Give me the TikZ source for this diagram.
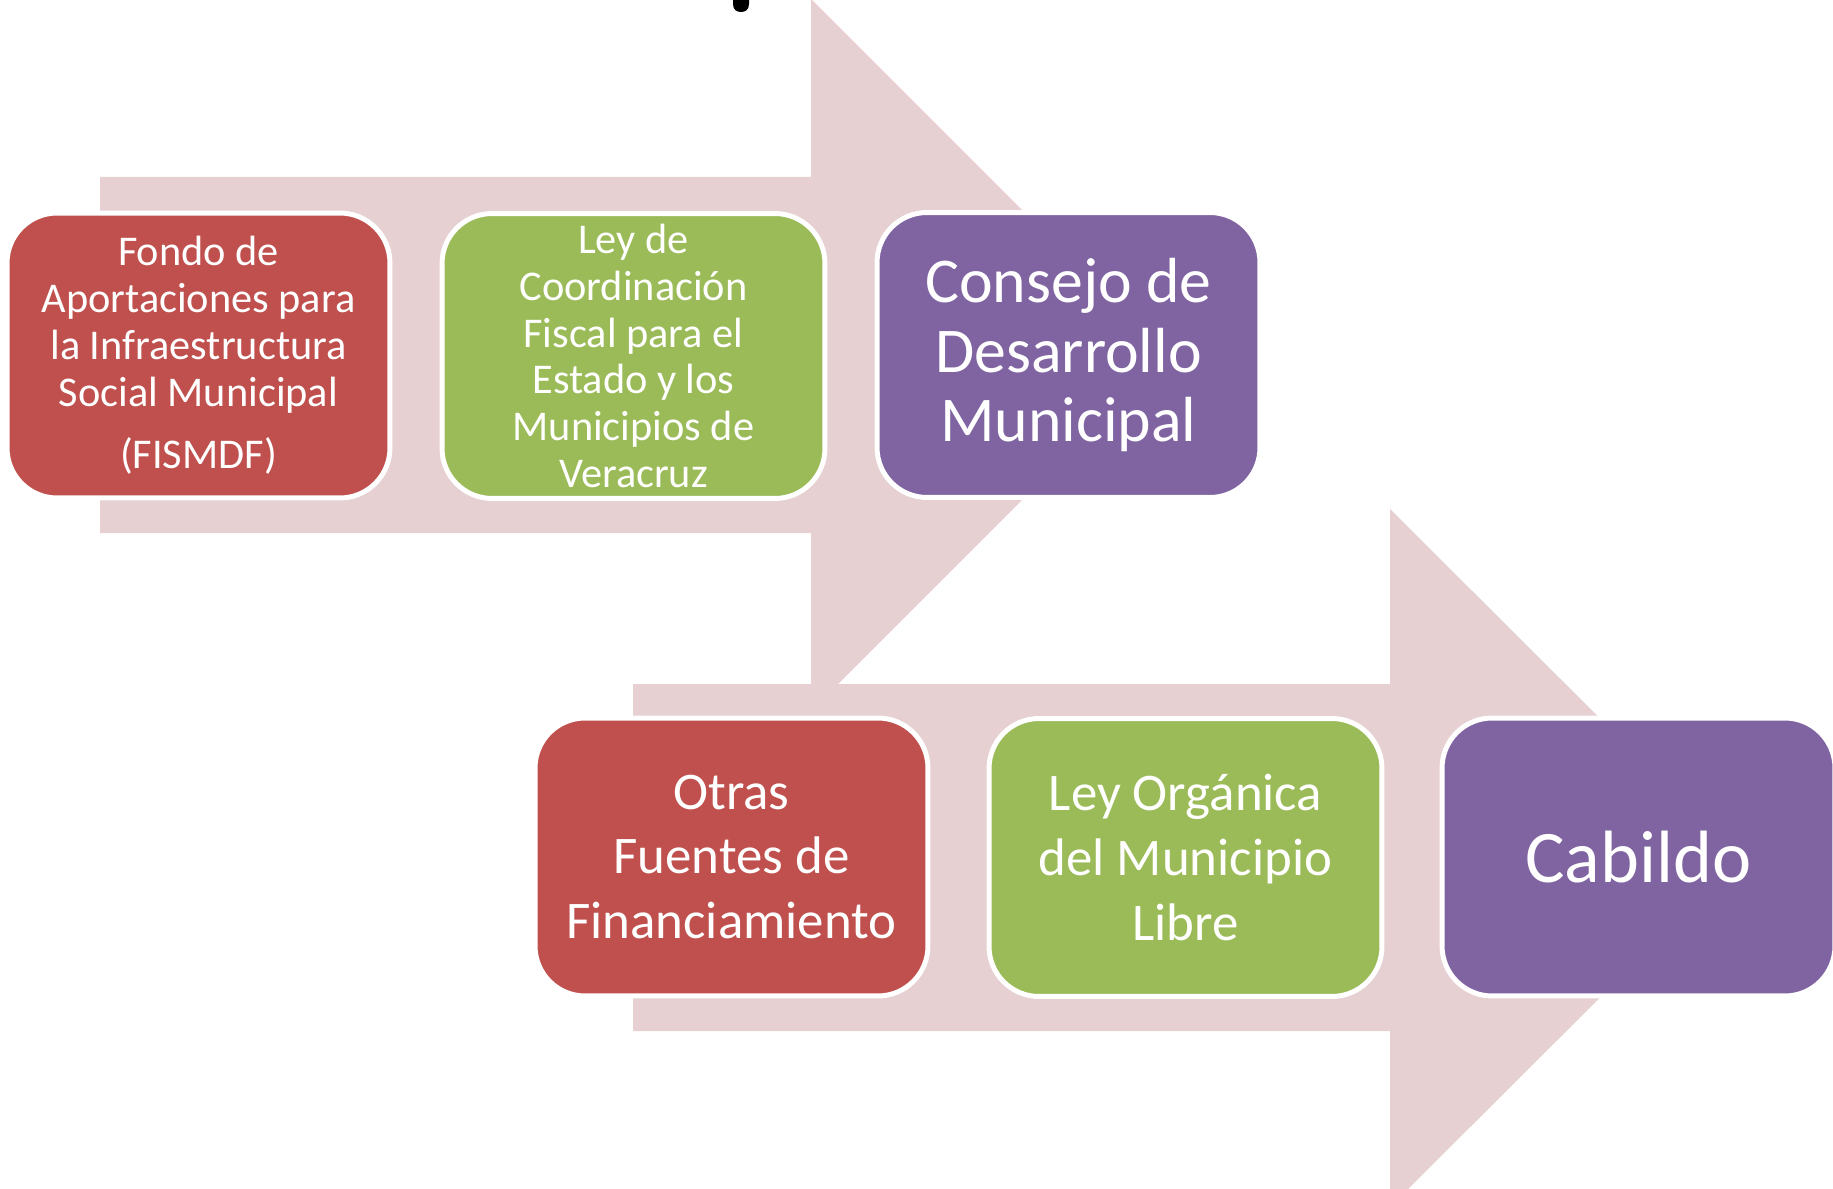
\documentclass[tikz,border=0pt]{standalone}
\usepackage{fontspec}
\setmainfont{Carlito}
\definecolor{accRed}{HTML}{C0504D}
\definecolor{accGreen}{HTML}{9BBB59}
\definecolor{accPurple}{HTML}{8064A2}
\definecolor{arrowPink}{RGB}{230,208,209}
\tikzset{
  box/.style={draw=white, line width=2.83pt, rounded corners=1cm, text=white,
    align=center, inner sep=0pt},
  boxA/.style={box, minimum width=7.66cm, minimum height=5.7cm},
  boxB/.style={box, minimum width=7.86cm, minimum height=5.56cm},
  bigarrow/.style={fill=arrowPink, draw=none},
  fsmall/.style={font=\fontsize{24.1}{26.6}\selectfont},
  fmid/.style={font=\fontsize{30.1}{36.8}\selectfont},
  flarge/.style={font=\fontsize{36.3}{39.7}\selectfont},
  fhuge/.style={font=\fontsize{42.2}{48}\selectfont}
}
\begin{document}
\begin{tikzpicture}[x=0.02cm, y=-0.02cm]
\useasboundingbox (0,0) rectangle (1833,1189);
\clip (0,0) rectangle (1833,1189);
% title descender fragment
\fill[black] (733,0) -- (733,4) .. controls (733,10) and (737,12) .. (741,12)
  .. controls (745,12) and (749,10) .. (749,4) -- (749,0) -- cycle;
% upper block arrow
\path[bigarrow] (100,177) -- (811,177) -- (811,-1) -- (1167,355) -- (811,711)
  -- (811,533) -- (100,533) -- cycle;
% lower block arrow
\path[bigarrow] (633,684) -- (1390,684) -- (1390,509) -- (1740,858) -- (1390,1207)
  -- (1390,1031) -- (633,1031) -- cycle;
% boxes
\node[boxA, fill=accRed, fsmall] (b1) at (198.5,355.5)
  {Fondo de\\Aportaciones para\\la Infraestructura\\Social Municipal\\[9pt](FISMDF)};
\node[boxA, fill=accGreen, fsmall] (b2) at (633.5,356)
  {Ley de\\Coordinación\\Fiscal para el\\Estado y los\\Municipios de\\Veracruz};
\node[boxA, fill=accPurple, flarge] (b3) at (1068.5,355)
  {\rule{0pt}{0pt}\raisebox{-3pt}{\parbox{7cm}{\centering Consejo de\\Desarrollo\\Municipal}}};
\node[boxB, fill=accRed, fmid] (b4) at (731.5,857)
  {\raisebox{-2pt}{\parbox{7.5cm}{\centering Otras\\Fuentes de\\Financiamiento}}};
\node[boxB, fill=accGreen, fmid] (b5) at (1185.5,857.5)
  {Ley Orgánica\\del Municipio\\Libre};
\node[boxB, fill=accPurple, fhuge] (b6) at (1638.5,857)
  {Cabildo};
\end{tikzpicture}
\end{document}
